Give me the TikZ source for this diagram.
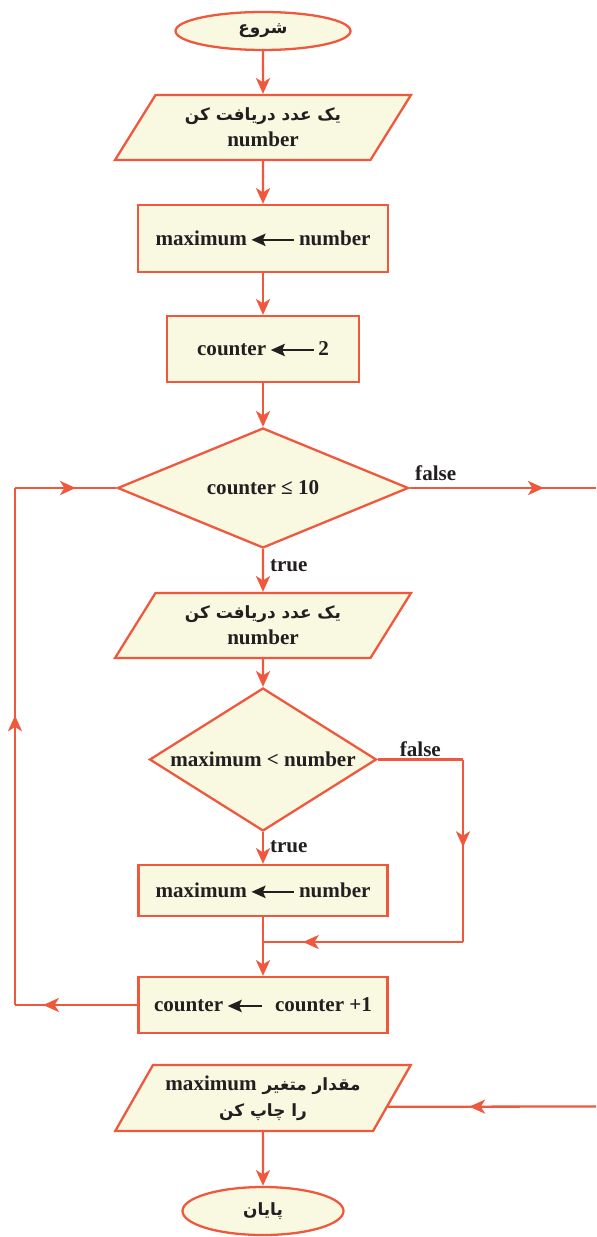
\documentclass[tikz,border=0pt]{standalone}
\usepackage{fontspec}
\setmainfont{Liberation Serif}
\newfontfamily\arabicfont[Script=Arabic,Scale=0.8]{DejaVu Sans}
\TeXXeTstate=1
\usetikzlibrary{shapes.geometric,arrows.meta,decorations.markings}

\definecolor{flowline}{RGB}{239,88,60}
\definecolor{flowfill}{RGB}{249,248,224}
\definecolor{flowtext}{RGB}{35,31,32}

% assignment arrow inside the boxes
\newcommand{\assign}[1][0.86]{\,\tikz[baseline=-0.6ex]\draw[flowtext,line width=1.2pt,{Stealth[length=8pt,width=7pt,inset=1.5pt]}-] (0,0) -- (#1,0);\,}
\newcommand{\fa}[1]{{\arabicfont\beginR #1\endR}}

\tikzset{
	every node/.style={font=\fontsize{12}{15}\selectfont\bfseries, text=flowtext},
	shape base/.style={draw=flowline, fill=flowfill, line width=1.3pt},
	term/.style={shape base, ellipse, inner sep=0pt},
	io/.style={shape base, trapezium, trapezium left angle=55, trapezium right angle=125,
		trapezium stretches=true, minimum width=5.92cm, minimum height=1.3cm, align=center, inner sep=1pt},
	proc/.style={shape base, rectangle, minimum width=4.98cm},
	decide/.style={shape base, diamond, inner sep=0pt},
	flow/.style={color=flowline, line width=1.3pt},
	arr/.style={flow, -{Stealth[length=9pt,width=8pt,inset=2.5pt]}},
	midarr/.style={flow, postaction={decorate},
		decoration={markings, mark=at position #1 with {\arrow{Stealth[length=9pt,width=8pt,inset=2.5pt]}}}},
	lbl/.style={text=flowtext}
}

\begin{document}
\begin{tikzpicture}
	\useasboundingbox (0,0) rectangle (11.92,-24.74);

	% nodes
	\node[term, minimum width=3.5cm, minimum height=0.76cm] (start) at (5.26,-0.62) {\fa{شروع}};
	\node[io] (in1) at (5.26,-2.55) {\fa{یک عدد دریافت کن}\\ number};
	\node[proc, minimum width=5cm, minimum height=1.34cm] (setmax) at (5.26,-4.77) {maximum\assign number};
	\node[proc, minimum width=3.84cm, minimum height=1.32cm] (setcnt) at (5.26,-6.98) {counter\assign 2};
	\node[decide, aspect=2.4, minimum width=5.82cm, minimum height=2.4cm] (test) at (5.26,-9.76) {counter ≤ 10};
	\node[io] (in2) at (5.26,-12.51) {\fa{یک عدد دریافت کن}\\ number};
	\node[decide, aspect=1.59, minimum width=4.54cm, minimum height=2.86cm] (cmp) at (5.26,-15.19) {maximum < number};
	\node[proc, minimum height=1.02cm] (upd) at (5.26,-17.81) {maximum\assign number};
	\node[proc, minimum height=1.12cm] (inc) at (5.26,-20.10) {counter\assign[0.68]\, counter +1};
	\node[io, minimum height=1.32cm] (out) at (5.26,-21.96) {\fa{مقدار متغیر \beginL{\rmfamily maximum}\endL}\\ \fa{را چاپ کن}};
	\node[term, minimum width=3.22cm, minimum height=0.96cm] (stop) at (5.26,-24.22) {\fa{پایان}};

	% corners of the side lines
	\coordinate (exitR) at (11.92,-9.76);
	\coordinate (loopB) at (0.3,-20.10);
	\coordinate (loopT) at (0.3,-9.76);
	\coordinate (fR) at (9.26,-15.19);
	\coordinate (fB) at (9.26,-18.84);
	\coordinate (merge) at (5.26,-18.84);
	\coordinate (inR) at (11.92,-22.13);

	% main flow
	\draw[arr] (start) -- (in1);
	\draw[arr] (in1) -- (setmax);
	\draw[arr] (setmax) -- (setcnt);
	\draw[arr] (setcnt) -- (test);
	\draw[arr] (test) -- node[lbl, right, pos=0.38] {true} (in2);
	\draw[arr] (in2) -- (cmp);
	\draw[arr] (cmp) -- node[lbl, right, pos=0.45] {true} (upd);
	\draw[arr] (upd) -- (inc);
	\draw[arr] (out) -- (stop);

	% false branches
	\draw[midarr=0.72] (test.east) -- node[lbl, above, pos=0.14] {false} (exitR);
	\draw[flow] (cmp.east) -- node[lbl, above, inner sep=1pt] {false} (fR);
	\draw[midarr=0.48] (fR) -- (fB);
	\draw[midarr=0.8] (fB) -- (merge);

	% loop back
	\draw[midarr=0.77] (inc.west) -- (loopB);
	\draw[midarr=0.56] (loopB) -- (loopT);
	\draw[midarr=0.6] (loopT) -- (test.west);

	% end of loop into output
	\draw[midarr=0.61] (inR) -- (out.-4);
\end{tikzpicture}
\end{document}
